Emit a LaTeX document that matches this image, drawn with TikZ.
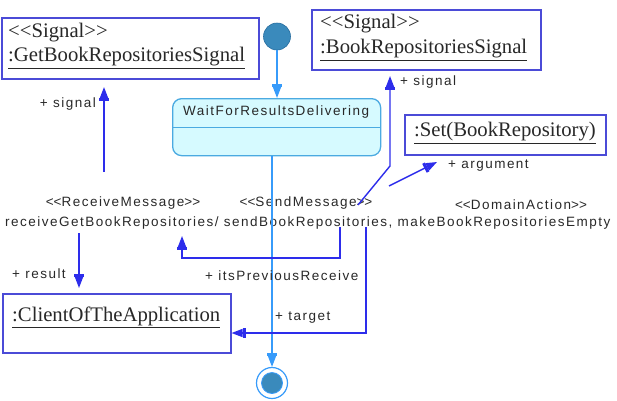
\documentclass[tikz,border=0pt]{standalone}
\usepackage{fontspec}
\setmainfont{Liberation Serif}
\newfontfamily\lblfont{Liberation Sans}[LetterSpace=11]
\usetikzlibrary{arrows.meta}
\definecolor{assocc}{RGB}{45,45,235}
\definecolor{boxc}{RGB}{75,75,215}
\definecolor{transc}{RGB}{55,155,250}
\definecolor{stfill}{RGB}{214,250,255}
\definecolor{stdraw}{RGB}{75,170,225}
\definecolor{dotc}{RGB}{58,138,188}
\definecolor{dotd}{RGB}{40,110,160}
\definecolor{txtc}{RGB}{40,40,40}
\newcommand\stL{\mbox{<}\mbox{<}}
\newcommand\stR{\mbox{>}\mbox{>}}
\begin{document}
\begin{tikzpicture}[x=1pt,y=-1pt,
  objbox/.style={draw=boxc, line width=1.5pt, fill=white, inner sep=0pt, anchor=north west},
  sertxt/.style={font=\fontsize{20.7}{24}\selectfont, text=txtc, inner sep=0pt, anchor=west},
  lbl/.style={font=\lblfont\fontsize{13.5}{15}\selectfont, text=txtc, inner sep=0pt},
  tip/.style={-{Rectangle[length=3pt,width=10pt]Triangle[length=11pt,width=8pt]}},
  assoc/.style={draw=assocc, line width=1.4pt, tip},
  trans/.style={draw=transc, line width=1.4pt, tip},
]
\useasboundingbox (0,0) rectangle (617,400);

% object boxes
\node[objbox, minimum width=257pt, minimum height=61pt] (gbrs) at (1,17) {};
\node[sertxt] (gbrsA) at (8,33) {\stL Signal\stR};
\node[sertxt] (gbrsB) at (8,58) {\underline{:GetBookRepositoriesSignal}};

\node[objbox, minimum width=229pt, minimum height=60pt] (brs) at (311,9) {};
\node[sertxt] (brsA) at (320,24) {\stL Signal\stR};
\node[sertxt] (brsB) at (320,50) {\underline{:BookRepositoriesSignal}};

\node[objbox, minimum width=201pt, minimum height=40pt] (setb) at (404,114) {};
\node[sertxt, anchor=center] (setbA) at (505,133) {\underline{:Set(BookRepository)}};

\node[objbox, minimum width=228pt, minimum height=59pt] (client) at (2,293) {};
\node[sertxt] (clientA) at (12,317) {\underline{:ClientOfTheApplication}};

% state
\node[draw=stdraw, line width=1.3pt, fill=stfill, rounded corners=9pt, minimum width=208pt,
      minimum height=57pt, anchor=north west, inner sep=0pt] (st) at (172,98) {};
\draw[stdraw, line width=1pt] (st.west |- 0,127) -- (st.east |- 0,127);
\node[lbl, anchor=west] (stA) at (183,112) {WaitForResultsDelivering};

% initial and final
\node[circle, fill=dotc, draw=dotd, line width=0.6pt, minimum size=27pt, inner sep=0pt] (init) at (277,36.5) {};
\node[circle, draw=transc, line width=1.2pt, fill=white, minimum size=31pt, inner sep=0pt] (fin) at (272,383) {};
\node[circle, draw=transc, line width=0.8pt, fill=dotc, minimum size=21pt, inner sep=0pt] (finIn) at (fin) {};

% transition labels
\node[lbl] (rcv) at (123,203) {\stL ReceiveMessage\stR};
\node[lbl] (snd) at (306,203) {\stL SendMessage\stR};
\node[lbl] (dom) at (521,205) {\stL DomainAction\stR};
\node[lbl, anchor=west] (eff) at (5,223) {receiveGetBookRepositories/ sendBookRepositories, makeBookRepositoriesEmpty};

% transitions
\draw[trans] (init.south) -- (init.south |- st.north);
\draw[trans] (fin |- st.south) -- (fin.north);

% associations
\coordinate (s1a) at (104,172);
\coordinate (s1b) at (104,87);
\draw[assoc] (s1a) -- (s1b);
\node[lbl, anchor=east] (s1l) at (96,104) {+ signal};

\coordinate (s2a) at (358,205);
\coordinate (s2b) at (390,166);
\coordinate (s2c) at (390,76);
\draw[assoc] (s2a) -- (s2b) -- (s2c);
\node[lbl, anchor=west] (s2l) at (400,82) {+ signal};

\coordinate (arga) at (389,186);
\coordinate (argb) at (437,162);
\draw[assoc] (arga) -- (argb);
\node[lbl, anchor=west] (argl) at (448,166) {+ argument};

\coordinate (resa) at (79,233);
\coordinate (resb) at (79,288);
\draw[assoc] (resa) -- (resb);
\node[lbl, anchor=west] (resl) at (12,274) {+ result};

\coordinate (ipa) at (340,227);
\coordinate (ipb) at (340,258);
\coordinate (ipc) at (182,258);
\coordinate (ipd) at (182,236);
\draw[assoc] (ipa) -- (ipb) -- (ipc) -- (ipd);
\node[lbl, anchor=west] (ipl) at (205,276) {+ itsPreviousReceive};

\coordinate (tga) at (366,227);
\coordinate (tgb) at (366,333);
\draw[assoc] (tga) -- (tgb) -- (client.east |- tgb);
\node[lbl, anchor=west] (tgl) at (275,318) {+ target};
\end{tikzpicture}
\end{document}
